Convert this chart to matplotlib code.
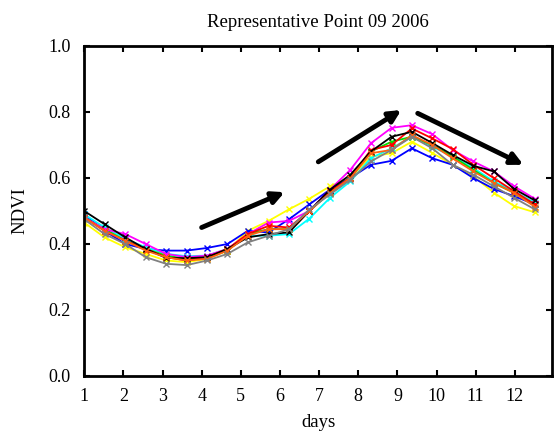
import matplotlib
matplotlib.use("Agg")
import matplotlib.pyplot as plt

days = [1.00, 1.52, 2.05, 2.57, 3.09, 3.62, 4.14, 4.66, 5.18, 5.71, 6.23, 6.75,
        7.28, 7.80, 8.32, 8.85, 9.37, 9.89, 10.41, 10.94, 11.46, 11.98, 12.51]

yellow = [0.465, 0.42, 0.39, 0.37, 0.35, 0.345, 0.355, 0.38, 0.44, 0.47, 0.505, 0.537,
          0.575, 0.60, 0.665, 0.675, 0.71, 0.676, 0.64, 0.605, 0.556, 0.515, 0.496]
blue = [0.49, 0.44, 0.40, 0.385, 0.38, 0.38, 0.388, 0.40, 0.44, 0.435, 0.475, 0.52,
        0.565, 0.60, 0.64, 0.652, 0.69, 0.66, 0.64, 0.60, 0.567, 0.545, 0.52]
cyan = [0.49, 0.45, 0.415, 0.39, 0.37, 0.363, 0.365, 0.385, 0.425, 0.425, 0.43, 0.477,
        0.54, 0.59, 0.66, 0.69, 0.725, 0.695, 0.665, 0.63, 0.59, 0.56, 0.525]
green = [0.48, 0.445, 0.41, 0.385, 0.365, 0.355, 0.36, 0.38, 0.43, 0.445, 0.445, 0.50,
         0.555, 0.60, 0.68, 0.71, 0.725, 0.70, 0.665, 0.625, 0.585, 0.555, 0.52]
magenta = [0.48, 0.445, 0.43, 0.40, 0.37, 0.36, 0.365, 0.385, 0.43, 0.465, 0.47, 0.50,
           0.565, 0.625, 0.705, 0.752, 0.76, 0.733, 0.685, 0.65, 0.62, 0.575, 0.537]
red = [0.48, 0.44, 0.41, 0.385, 0.36, 0.35, 0.36, 0.385, 0.43, 0.455, 0.45, 0.50,
       0.56, 0.60, 0.685, 0.70, 0.75, 0.72, 0.688, 0.64, 0.60, 0.56, 0.52]
black = [0.50, 0.46, 0.42, 0.385, 0.358, 0.357, 0.36, 0.385, 0.42, 0.43, 0.435, 0.50,
         0.565, 0.61, 0.68, 0.725, 0.74, 0.706, 0.67, 0.637, 0.62, 0.567, 0.532]
orange = [0.48, 0.44, 0.41, 0.38, 0.36, 0.35, 0.355, 0.38, 0.425, 0.445, 0.445, 0.50,
          0.555, 0.60, 0.675, 0.685, 0.73, 0.70, 0.66, 0.62, 0.585, 0.555, 0.513]
gray = [0.475, 0.43, 0.40, 0.36, 0.34, 0.336, 0.35, 0.37, 0.405, 0.425, 0.445, 0.505,
        0.55, 0.595, 0.65, 0.685, 0.725, 0.69, 0.64, 0.61, 0.575, 0.54, 0.505]

series = [
    (yellow, "#ffff00"),
    (blue, "#0000ff"),
    (cyan, "#00ffff"),
    (green, "#00e000"),
    (magenta, "#ff00ff"),
    (red, "#ff0000"),
    (black, "#000000"),
    (orange, "#ff6010"),
    (gray, "#808080"),
]

xticks = [1, 2, 3, 4, 5, 6, 7, 8, 9, 10, 11, 12]
yticks = [0.0, 0.2, 0.4, 0.6, 0.8, 1.0]

# arrows (start, end) in data coords
arrows = [((4.0, 0.45), (6.12, 0.557)),
          ((6.98, 0.649), (9.1, 0.806)),
          ((9.52, 0.796), (12.22, 0.64))]

plt.rcParams["font.family"] = ["Liberation Serif", "DejaVu Serif"]

fig = plt.figure(figsize=(5.54, 4.41), dpi=100)
ax = fig.add_axes([0.152, 0.1474, 0.8444, 0.7483])

for vals, col in series:
    ax.plot(days, vals, color=col, lw=1.3, marker="x", ms=4, mew=1.0)

for (x0, y0), (x1, y1) in arrows:
    ax.annotate("", xy=(x1, y1), xytext=(x0, y0),
                arrowprops=dict(arrowstyle="-|>,head_length=0.7,head_width=0.35",
                                lw=3.5, color="black", shrinkA=0, shrinkB=0))

ax.set_xlim(1, 12.95)
ax.set_ylim(0, 1.0)
ax.set_xticks(xticks)
ax.set_xticklabels([str(t) for t in xticks])
ax.set_yticks(yticks)
ax.set_yticklabels([f"{t:.1f}" for t in yticks])
ax.tick_params(direction="in", length=4, width=1.5, top=True, right=True,
               labelsize=13)
ax.tick_params(axis="y", pad=10)
ax.tick_params(axis="x", pad=9)
for s in ax.spines.values():
    s.set_linewidth(2)

ax.set_xlabel("days", fontsize=13.5, labelpad=6)
ax.set_ylabel("NDVI", fontsize=13.5, labelpad=14)
ax.set_title("Representative Point 09 2006", fontsize=13.5, pad=14)

fig.savefig("out.png", dpi=100)
